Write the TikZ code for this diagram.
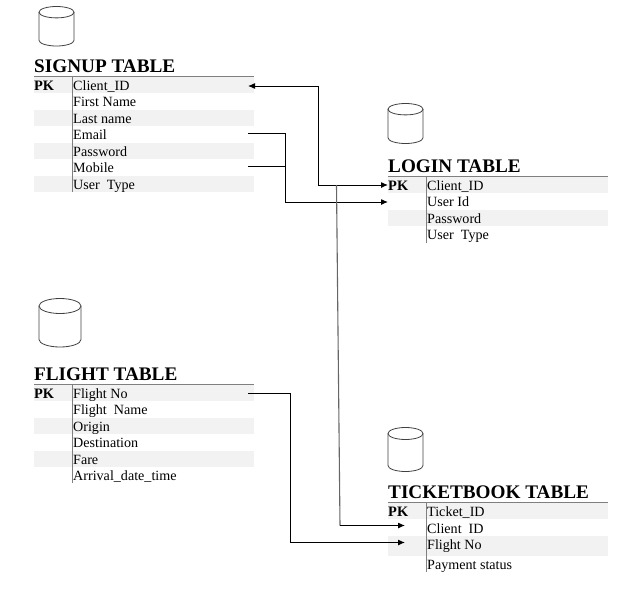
\documentclass[tikz,border=0pt]{standalone}
\usepackage{fontspec}
\setmainfont{Liberation Serif}
\usetikzlibrary{arrows.meta}
\definecolor{bandgray}{HTML}{F2F2F2}
\definecolor{rulegray}{HTML}{7F7F7F}
\tikzset{
	rowbar/.style={minimum width=220pt, minimum height=16.4pt, inner sep=0pt, outer sep=0pt},
	rowtext/.style={anchor=base west, inner sep=0pt, font=\fontsize{14.1}{16}\selectfont},
	pktext/.style={anchor=base west, inner sep=0pt, font=\fontsize{14.4}{16}\selectfont\bfseries},
	tabletitle/.style={anchor=base west, inner sep=0pt, font=\fontsize{19.2}{22}\selectfont\bfseries},
	dbline/.style={draw=black!75, line width=0.8pt},
	tablerule/.style={draw=rulegray, line width=0.8pt},
	link/.style={draw=black, line width=1pt},
	linkgray/.style={draw=black!60, line width=1.1pt},
	tip/.style={-{Latex[length=7pt,width=6pt]}},
	tips/.style={{Latex[length=7pt,width=6pt]}-{Latex[length=7pt,width=6pt]}},
}
% left, top, width, height, end radius
\def\dbicon(#1,#2,#3,#4,#5){
	\draw[dbline, line join=round] (#1,#2+#5) -- (#1,#2+#4-#5) arc[start angle=180, end angle=360, x radius=#3/2*1pt, y radius=#5*1pt] -- (#1+#3,#2+#5);
	\draw[dbline] (#1+#3/2,#2+#5) ellipse[x radius=#3/2*1pt, y radius=#5*1pt];
}
\begin{document}
\begin{tikzpicture}[x=1pt,y=-1pt]
	\useasboundingbox (0,0) rectangle (619,597);

	% signup
	\dbicon(39,6.5,35,39.5,5.7);
	\node[tabletitle] (signupTitle) at (34,72) {SIGNUP TABLE};
	\foreach \row/\y/\txt/\col in {1/85/Client\_ID/bandgray, 2/101.4/First Name/white, 3/118/Last name/bandgray, 4/134.4/Email/white, 5/151/Password/bandgray, 6/167.4/Mobile/white, 7/183.8/User\ \ Type/bandgray}{
		\node[rowbar, fill=\col] (signup\row) at (144,\y) {};
		\node[rowtext] (signupText\row) at (73,\y+5.3) {\txt};
	}
	\node[pktext] (signupPk) at (34,90.3) {PK};
	\draw[tablerule] (34,76.5) -- (254,76.5);
	\draw[tablerule] (72.5,76.5) -- (72.5,192);

	% login
	\dbicon(388,103.5,35,40,5.7);
	\node[tabletitle] (loginTitle) at (388,172) {LOGIN TABLE};
	\foreach \row/\y/\txt/\col in {1/185/Client\_ID/bandgray, 2/201.4/User Id/white, 3/218/Password/bandgray, 4/234.4/User\ \ Type/white}{
		\node[rowbar, fill=\col] (login\row) at (498,\y) {};
		\node[rowtext] (loginText\row) at (427,\y+5.3) {\txt};
	}
	\node[pktext] (loginPk) at (388,190.3) {PK};
	\draw[tablerule] (388,176.5) -- (608,176.5);
	\draw[tablerule] (426.5,176.5) -- (426.5,243);

	% flight
	\dbicon(39,298.5,42,48.5,7.5);
	\node[tabletitle] (flightTitle) at (34,380) {FLIGHT TABLE};
	\foreach \row/\y/\txt/\col in {1/393/Flight No/bandgray, 2/409.4/Flight\ \ Name/white, 3/426/Origin/bandgray, 4/442.4/Destination/white, 5/459/Fare/bandgray, 6/475.4/Arrival\_date\_time/white}{
		\node[rowbar, fill=\col] (flight\row) at (144,\y) {};
		\node[rowtext] (flightText\row) at (73,\y+5.3) {\txt};
	}
	\node[pktext] (flightPk) at (34,398.3) {PK};
	\draw[tablerule] (34,384) -- (254,384);
	\draw[tablerule] (72.5,384) -- (72.5,483);

	% ticketbook
	\dbicon(388,427.5,35,44,6);
	\node[tabletitle] (ticketTitle) at (388,498) {TICKETBOOK TABLE};
	\node[rowbar, fill=bandgray] (ticket1) at (498,511) {};
	\node[rowbar, minimum height=20pt, fill=bandgray] (ticket3) at (498,546) {};
	\foreach \row/\y/\txt in {1/511/Ticket\_ID, 2/528/Client\ \ ID, 3/544/Flight No, 4/564/Payment status}{
		\node[rowtext] (ticketText\row) at (427,\y+5.3) {\txt};
	}
	\node[pktext] (ticketPk) at (388,516.3) {PK};
	\draw[tablerule] (388,502.5) -- (608,502.5);
	\draw[tablerule] (426.5,502.5) -- (426.5,572);

	% free ends of the links
	\coordinate (signupClientEnd) at (248,86);
	\coordinate (signupEmailEnd) at (248,133);
	\coordinate (signupMobileEnd) at (248,166);
	\coordinate (flightNoEnd) at (248,393);
	\coordinate (loginClientEnd) at (388,185);
	\coordinate (loginUserEnd) at (388,202);
	\coordinate (ticketClientEnd) at (405,525.5);
	\coordinate (ticketFlightEnd) at (405,542.5);
	\coordinate (emailBend) at (285,133);
	\coordinate (clientJoin) at (336.5,185);
	\coordinate (clientBend) at (340,525.5);

	\draw[link, tips] (signupClientEnd) -- (318,86) -- (318,185) -- (loginClientEnd);
	\draw[link] (signupEmailEnd) -- (emailBend);
	\draw[link] (signupMobileEnd) -- (285,166);
	\draw[link, tip] (emailBend) -- (285,202) -- (loginUserEnd);
	\draw[link, tip] (flightNoEnd) -- (290,393) -- (290,542.5) -- (ticketFlightEnd);
	\draw[linkgray] (clientJoin) -- (clientBend);
	\draw[link, tip] (clientBend) -- (ticketClientEnd);
\end{tikzpicture}
\end{document}
